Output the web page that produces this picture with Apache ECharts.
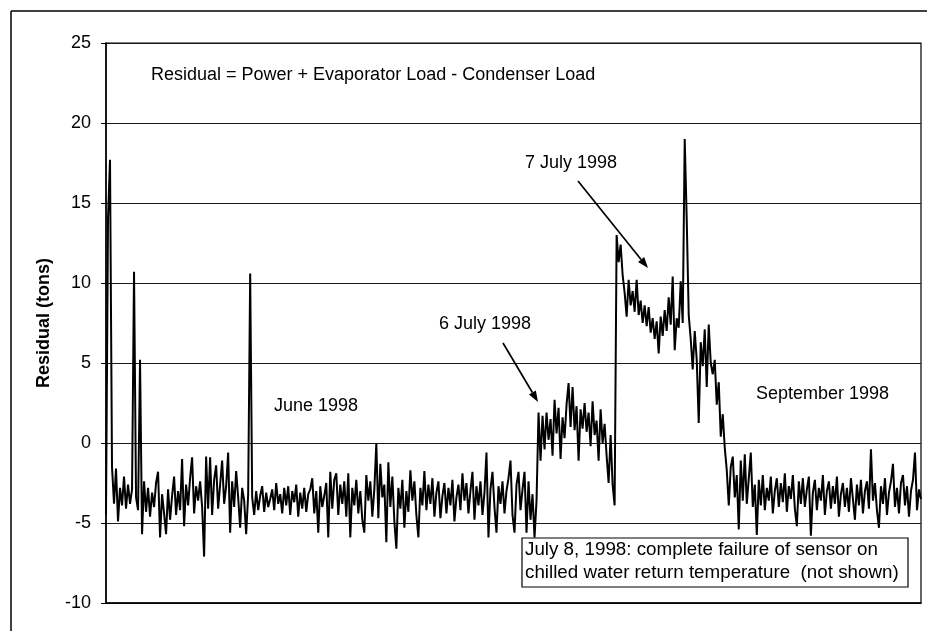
<!DOCTYPE html>
<html><head><meta charset="utf-8">
<script src="https://cdn.jsdelivr.net/npm/echarts@6/dist/echarts.min.js"></script>
<style>html,body{margin:0;padding:0;background:#fff}#c{width:927px;height:631px}</style>
</head><body><div id="c"></div>
<script>
// Residual (tons), one sample every ~2 px of plot width
const juneValues = [
 -4.5,14.0,17.7,-1.5,-3.8,-1.6,-4.9,-2.8,-3.9,-2.1,
 -4.1,-2.6,-3.8,-2.9,10.7,-3.4,-4.2,5.2,-5.7,-2.4,
 -4.3,-2.8,-4.6,-3.1,-4.0,-2.5,-1.8,-5.9,-3.2,-4.4,
 -5.7,-2.9,-4.8,-3.3,-2.1,-4.5,-3.0,-4.2,-1.0,-5.2,
 -2.6,-3.9,-2.2,-0.9,-4.4,-2.7,-3.6,-2.4,-4.0,-7.1,
 -0.85,-4.1,-0.9,-4.5,-2.3,-1.4,-4.1,-2.6,-1.1,-3.8,
 -2.7,-0.6,-5.6,-2.4,-4.0,-1.75,-3.4,-5.3,-2.8,-3.6,
 -5.7,-3.2,10.6,-3.4,-4.5,-3.0,-4.2,-3.3,-2.7,-4.3,
 -3.1,-4.0,-3.5,-2.9,-4.2,-2.5,-3.8,-3.2,-4.4,-2.8,
 -3.9,-2.7,-4.5,-3.0,-3.7,-2.6,-4.6,-3.1,-4.1,-2.8,
 -4.3,-3.2,-2.9,-2.2,-4.4,-3.0,-5.6,-2.7,-4.0,-3.3,
 -2.5,-5.9,-1.8,-4.1,-2.3,-1.9,-4.5,-2.6,-3.8,-2.4,
 -4.6,-1.9,-5.9,-2.8,-3.9,-2.3,-4.4,-3.0,-4.8,-5.6,
 -2.0,-3.6,-2.4,-4.6,-2.9,0.0,-4.7,-1.3,-3.4,-2.6,
 -6.2,-1.2,-4.0,-2.1,-4.9,-6.6,-2.8,-4.1,-2.3,-5.3,
 -3.0,-4.3,-1.7,-3.6,-2.4,-4.5,-5.9,-2.8,-3.9,-1.75,
 -4.2,-2.6,-3.8,-2.2,-4.6,-3.1,-2.4,-4.7,-3.3,-2.5,
 -4.4,-2.8,-3.9,-2.3,-4.9,-3.4,-2.6,-4.2,-1.9,-3.6,
 -2.5,-4.4,-3.0,-1.8,-4.8,-2.7,-3.9,-2.4,-4.5,-3.1,
 -0.6,-5.9,-2.9,-1.8,-4.0,-5.6,-2.7,-3.8,-2.4,-4.4,
 -3.0,-2.2,-1.1,-4.5,-5.6,-2.6,-1.8,-4.2,-2.9,-1.8,
 -5.6,-2.4,-4.8,-3.2,-5.9,-3.6
];
const july6Values = [
 1.9,-1.1,1.7,-0.4,
 1.9,0.2,1.5,-0.8,2.7,0.6,2.2,-1.0,1.6,0.3,
 2.4,3.75,1.0,3.5,0.8,2.3,-1.1,2.1,0.9,2.5,
 0.7,1.9,-0.2,2.6,0.5,1.4,-1.1,2.1,0.0,1.2,
 -0.8,-2.5,0.5,-2.6,-3.9
];
const july7Values = [
 13.0,11.3,12.4,10.5,9.4,
 7.9,10.2,8.6,9.5,8.2,10.2,8.0,8.9,7.5,8.6,
 7.3,8.5,6.9,7.8,6.5,7.6,5.6,7.9,6.7,8.3,
 7.0,9.1,7.4,10.4,5.8,7.8,7.2,10.1,7.5,19.0,
 14.0,8.0,6.5,4.6,7.0,5.2,1.25,6.3,4.8,7.1,
 3.5,7.4,5.0,4.3,5.2,2.4,3.8,0.4,1.8,-0.3,
 -1.7
];
const septemberValues = [
 -3.9,-1.5,-0.85,-3.4,-2.0,-5.4,-1.1,-3.6,-0.7,
 -3.8,-2.2,-0.6,-4.0,-2.6,-5.75,-2.3,-3.9,-2.0,-4.2,
 -2.8,-3.6,-2.1,-4.4,-3.0,-2.2,-4.0,-2.5,-3.7,-1.9,
 -4.3,-2.7,-3.5,-2.0,-4.1,-5.2,-2.4,-3.8,-2.2,-4.0,
 -2.9,-2.1,-5.8,-3.1,-2.3,-4.2,-2.8,-3.6,-2.0,-4.5,
 -3.0,-2.4,-4.1,-2.7,-3.8,-2.1,-4.6,-3.2,-2.5,-4.0,
 -2.8,-4.3,-2.2,-3.5,-4.8,-2.6,-3.9,-2.3,-4.4,-3.0,
 -2.4,-4.1,-0.4,-3.6,-2.5,-4.2,-5.3,-2.7,-3.8,-2.2,
 -4.5,-3.1,-2.4,-1.3,-4.0,-2.8,-4.4,-2.5,-2.0,-3.9,
 -2.7,-4.6,-3.0,-2.3,-0.6,-4.2,-2.9,-3.5
];
const yTicks = { min: -10, max: 25, step: 5 };
const yAxisTitle = 'Residual (tons)';
const formulaText = 'Residual = Power + Evaporator Load - Condenser Load';
const periodLabels = ['June 1998', '6 July 1998', '7 July 1998', 'September 1998'];
const failureNote = ['July 8, 1998: complete failure of sensor on', 'chilled water return temperature  (not shown)'];

const residual = juneValues.concat(july6Values, july7Values, septemberValues);
const sampleIndex = residual.map((_, i) => i);

const FONT = '"Liberation Sans", Arial, sans-serif';
const chart = echarts.init(document.getElementById('c'), null, { renderer: 'canvas' });

function arrow(x1, y1, x2, y2) {
  const a = Math.atan2(y2 - y1, x2 - x1), L = 11, W = 4;
  const bx = x2 - L * Math.cos(a), by = y2 - L * Math.sin(a);
  const px = -Math.sin(a) * W, py = Math.cos(a) * W;
  return [
    { type: 'line', shape: { x1, y1, x2: bx, y2: by }, style: { stroke: '#000', lineWidth: 1.7 }, z: 100 },
    { type: 'polygon', shape: { points: [[x2, y2], [bx + px, by + py], [bx - px, by - py]] }, style: { fill: '#000' }, z: 100 }
  ];
}
function label(text, x, y, size) {
  return { type: 'text', x, y, z: 100, style: { text, font: (size || 18) + 'px ' + FONT, fill: '#000', textVerticalAlign: 'middle', verticalAlign: 'middle' } };
}

chart.setOption({
  animation: false,
  backgroundColor: '#fff',
  grid: { left: 106, top: 43, width: 815, height: 560, show: true, borderColor: '#000', borderWidth: 1.2, backgroundColor: 'transparent' },
  xAxis: {
    type: 'category', data: sampleIndex, boundaryGap: false,
    axisLine: { show: true, onZero: false, lineStyle: { color: '#000', width: 1.5 } },
    axisTick: { show: false }, axisLabel: { show: false }, splitLine: { show: false }
  },
  yAxis: {
    type: 'value', min: yTicks.min, max: yTicks.max, interval: yTicks.step,
    name: yAxisTitle, nameLocation: 'middle', nameRotate: 90, nameGap: 53,
    nameTextStyle: { color: '#000', fontFamily: FONT, fontSize: 18, fontWeight: 'bold' },
    axisLine: { show: true, lineStyle: { color: '#000', width: 1.5 } },
    axisTick: { show: true, inside: false, length: 5, lineStyle: { color: '#000', width: 1 } },
    axisLabel: { color: '#000', fontFamily: FONT, fontSize: 18, margin: 15 },
    splitLine: { show: true, lineStyle: { color: '#1a1a1a', width: 1.2 } }
  },
  series: [{
    type: 'line', data: residual, showSymbol: false, symbol: 'none',
    lineStyle: { color: '#000', width: 2 }, z: 5
  }],
  graphic: [
    { type: 'line', shape: { x1: 11, y1: 11, x2: 927, y2: 11 }, style: { stroke: '#000', lineWidth: 1.5 } },
    { type: 'line', shape: { x1: 11, y1: 11, x2: 11, y2: 631 }, style: { stroke: '#000', lineWidth: 1.5 } },
    label(formulaText, 151, 75),
    label(periodLabels[0], 274, 406),
    label(periodLabels[1], 439, 324),
    label(periodLabels[2], 525, 163),
    label(periodLabels[3], 756, 394),
    ...arrow(578, 181, 648, 268),
    ...arrow(503, 343, 538, 402),
    { type: 'rect', z: 99, shape: { x: 522, y: 538, width: 386, height: 49 }, style: { fill: '#fff', stroke: '#000', lineWidth: 1.2 } },
    label(failureNote[0], 525, 550, 18.8),
    label(failureNote[1], 525, 573, 18.8)
  ]
});
</script></body></html>
